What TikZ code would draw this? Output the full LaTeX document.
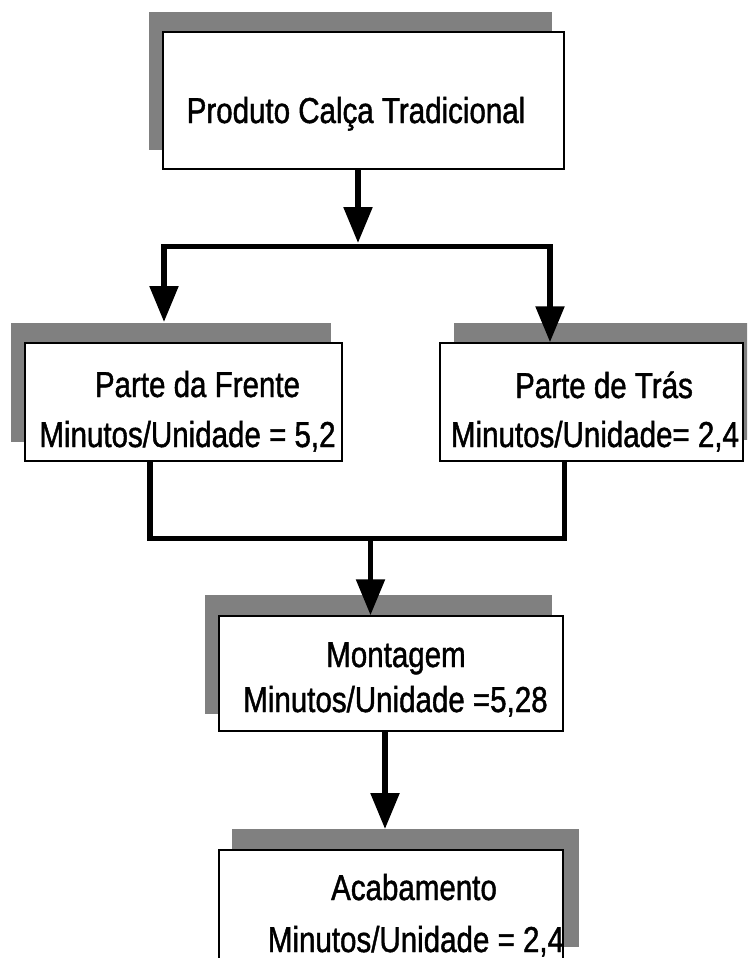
\documentclass[tikz,border=0pt]{standalone}
\usepackage{fontspec}
\setmainfont[FakeStretch=0.82,FakeBold=1.2]{Liberation Sans}
\usetikzlibrary{arrows.meta}
\definecolor{shadowgray}{RGB}{128,128,128}
\begin{document}
\begin{tikzpicture}[x=1pt,y=-1pt,
  box/.style={draw=black, line width=1.5pt, fill=white, rectangle, inner sep=0pt},
  shadowbox/.style={fill=shadowgray},
  txt/.style={inner sep=0pt, anchor=base, font=\fontsize{36}{44}\selectfont},
  conn/.style={line width=5.5pt, line join=miter},
  arr/.style={conn, -{Triangle[length=36pt,width=28pt]}},
  arr2/.style={conn, {Triangle[length=36pt,width=28pt]}-{Triangle[length=36pt,width=28pt]}}]
\useasboundingbox (0,0) rectangle (747,958);
\clip (0,0) rectangle (747,958);
\fill[white] (0,0) rectangle (747,958);

% shadows
\fill[shadowbox] (149,12) rectangle (552,150);
\fill[shadowbox] (11,323) rectangle (331,442);
\fill[shadowbox] (454,323) rectangle (760,440);
\fill[shadowbox] (205,595) rectangle (552,714);
\fill[shadowbox] (232,829) rectangle (579,947);

% boxes
\node[box, minimum width=401pt, minimum height=137pt] (top) at (363.5,100.5) {};
\node[box, minimum width=317pt, minimum height=118pt] (left) at (183.5,402) {};
\node[box, minimum width=303pt, minimum height=118pt] (right) at (591.5,402) {};
\node[box, minimum width=344pt, minimum height=115pt] (mont) at (391,673.5) {};
\node[box, minimum width=344pt, minimum height=118pt] (acab) at (391,909) {};

% texts
\node[txt] (t0) at (356,123) {Produto Calça Tradicional};
\node[txt] (l1) at (197.5,397) {Parte da Frente};
\node[txt] (l2) at (187.5,447) {Minutos/Unidade = 5,2};
\node[txt] (r1) at (604,398) {Parte de Trás};
\node[txt] (r2) at (595,447) {Minutos/Unidade= 2,4};
\node[txt] (m1) at (396,667) {Montagem};
\node[txt] (m2) at (395.5,712) {Minutos/Unidade =5,28};
\node[txt] (a1) at (414,900) {Acabamento};
\node[txt] (a2) at (416,952) {Minutos/Unidade = 2,4};

% connector points
\coordinate (busin) at (358,243);
\coordinate (busL) at (164,246.5);
\coordinate (busR) at (550,246.5);
\coordinate (ltip) at (164,322);
\coordinate (joinL) at (150,538.5);
\coordinate (joinR) at (564.5,538.5);
\coordinate (joinM) at (370.5,538.5);
\coordinate (atip) at (385,829);

% connectors
\draw[arr] ([xshift=-5.5pt]top.south) -- (busin);
\draw[arr2] (ltip) -- (busL) -- (busR) -- ([xshift=-41.5pt]right.north);
\draw[conn] ([xshift=-33.5pt]left.south) -- (joinL) -- (joinR) -- ([xshift=-27pt]right.south);
\draw[arr] (joinM) -- ([xshift=-20.5pt]mont.north);
\draw[arr] ([xshift=-6pt]mont.south) -- (atip);
\end{tikzpicture}
\end{document}
